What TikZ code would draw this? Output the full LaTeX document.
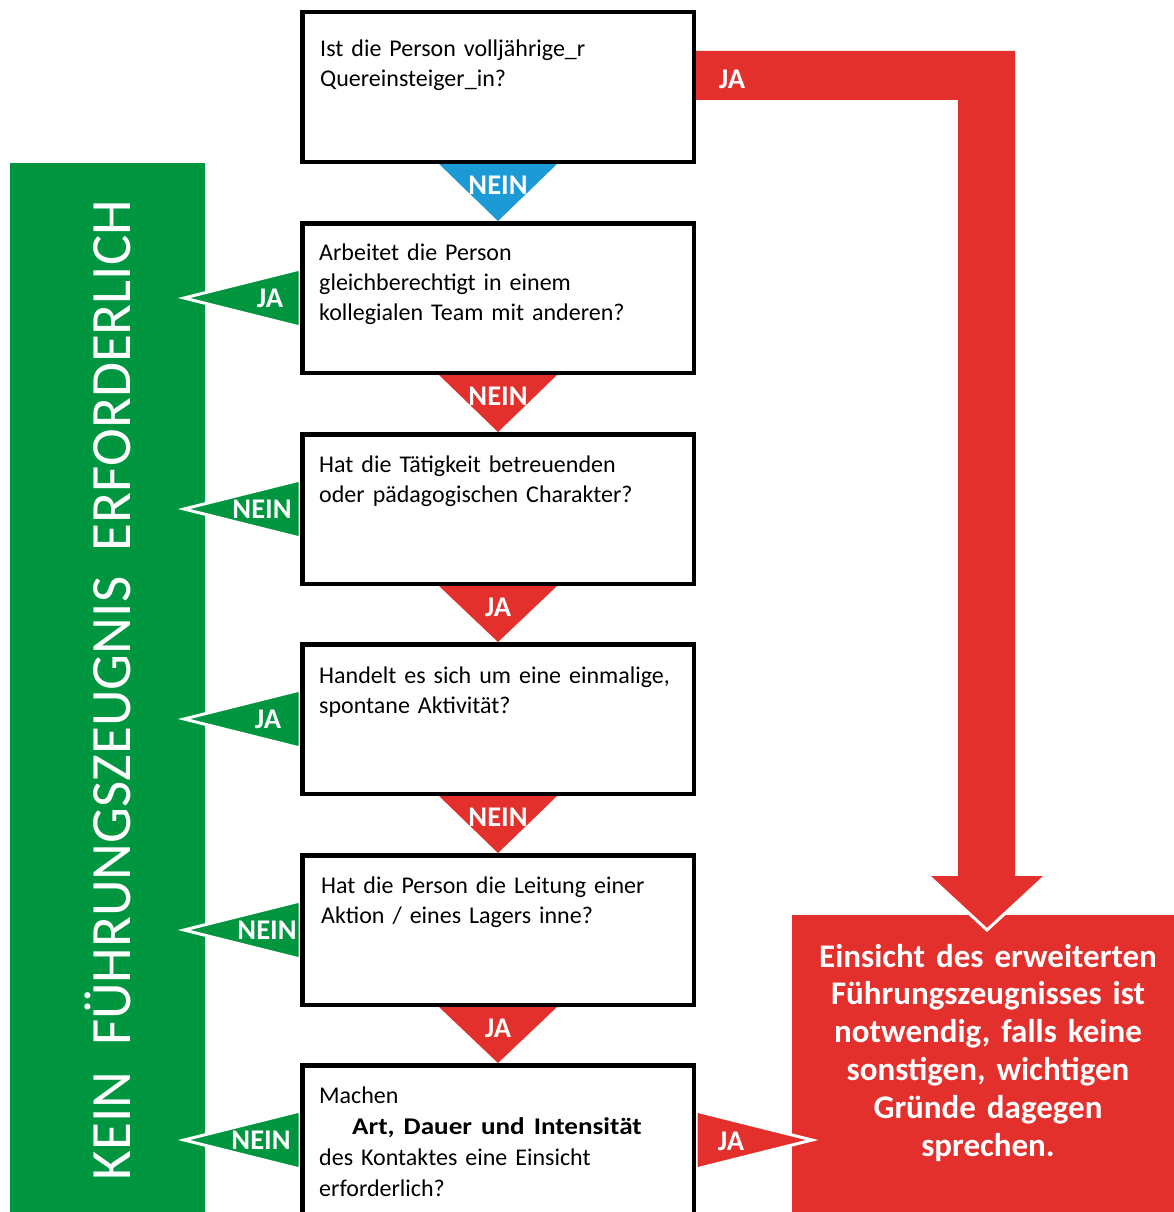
\documentclass[tikz,border=0pt]{standalone}
\usepackage{fontspec}
\usepackage{graphicx}
\setmainfont{Carlito}
\usetikzlibrary{calc}
\definecolor{ggreen}{HTML}{00963F}
\definecolor{rred}{HTML}{E3302C}
\definecolor{bblue}{HTML}{1B9AD6}
\begin{document}
\begin{tikzpicture}[x=1pt,y=-1pt,
  qbox/.style={draw=black, line width=4.5pt, fill=white, minimum width=391.5pt, minimum height=149.5pt, inner sep=0pt},
  qtext/.style={anchor=base west, inner sep=0pt, text width=375pt, align=left, font=\fontsize{24}{30}\selectfont},
  lab/.style={text=white, font=\bfseries\fontsize{28.5}{30}\selectfont, inner sep=0pt},
  tri/.style={draw=white, line width=3pt},
]
\useasboundingbox (0,0) rectangle (1174,1212);
% green bar and result box
\node[fill=ggreen, anchor=north west, minimum width=195pt, minimum height=1070pt, inner sep=0pt] (gbar) at (10,163) {};
\node[fill=rred, anchor=north west, minimum width=400pt, minimum height=320pt, inner sep=0pt] (res) at (792,915) {};
% question box centres
\coordinate (c1) at (498,87);
\coordinate (c2) at (498,298);
\coordinate (c3) at (498,509);
\coordinate (c4) at (498,719);
\coordinate (c5) at (498,930);
\coordinate (c6) at (498,1140);
% red JA arrow from first box to result
\fill[rred] ($(c1)+(198,-36)$) -- (1015,51) -- (1015,876) -- (1046,876) -- (987,930) -- (928,876) -- (958,876) -- (958,100) -- ($(c1)+(198,13)$) -- cycle;
\draw[white, line width=3pt] (1047,874.5) -- (987,930) -- (927,874.5);
% box anchors
\foreach \i in {1,...,6} \path (c\i) node[qbox, draw=none, fill=none] (b\i) {};
% down triangles
\foreach \a/\b/\c in {b1/b2/bblue, b2/b3/rred, b3/b4/rred, b4/b5/rred, b5/b6/rred}
  \fill[\c] ($(\a.south)+(-59,0)$) -- ($(\a.south)+(59,0)$) -- (\b.north) -- cycle;
% left (green) triangles
\foreach \b in {b2,b3,b4,b5,b6}
  \filldraw[fill=ggreen, tri] ($(\b.west)+(0,-29)$) -- ($(\b.west)+(-116,0)$) -- ($(\b.west)+(0,29)$) -- cycle;
% right red triangle from last box
\filldraw[fill=rred, tri] ($(b6.east)+(0,-29)$) -- ($(b6.east)+(116,0)$) -- ($(b6.east)+(0,29)$) -- cycle;
% draw boxes
\foreach \i in {1,...,6} \node[qbox] at (c\i) {};
% texts in boxes
\node[qtext] (t1) at (320,57) {Ist die Person volljährige\_r\\Quereinsteiger\_in?};
\node[qtext] (t2) at (319,260) {Arbeitet die Person\\gleichberechtigt in einem\\kollegialen Team mit anderen?};
\node[qtext] (t3) at (319,472) {Hat die Tätigkeit betreuenden\\oder pädagogischen Charakter?};
\node[qtext] (t4) at (319,683) {Handelt es sich um eine einmalige,\\spontane Aktivität?};
\node[qtext] (t5) at (321,893) {Hat die Person die Leitung einer\\Aktion / eines Lagers inne?};
\node[qtext, font=\fontsize{24}{31}\selectfont] (t6) at (319,1103) {Machen\\\hspace*{33pt}\scalebox{1.13}[1]{\textbf{Art, Dauer und Intensität}}\\des Kontaktes eine Einsicht\\erforderlich?};
% labels
\node[lab] (l1) at (498,185) {NEIN};
\node[lab] (l2) at (498,396) {NEIN};
\node[lab] (l3) at (498,607) {JA};
\node[lab] (l4) at (498,817) {NEIN};
\node[lab] (l5) at (498,1028) {JA};
\node[lab] (g2) at (270,298) {JA};
\node[lab] (g3) at (262,509) {NEIN};
\node[lab] (g4) at (268,719) {JA};
\node[lab] (g5) at (267,930) {NEIN};
\node[lab] (g6) at (261,1140) {NEIN};
\node[lab] (r6) at (731,1141) {JA};
\node[lab] (r1) at (732,79) {JA};
% green text
\node[rotate=90, anchor=base, text=white, inner sep=0pt, font=\fontsize{57}{60}\selectfont] (gtext) at (130,690) {KEIN\hspace{0.45em}FÜHRUNGSZEUGNIS\hspace{0.45em}ERFORDERLICH};
% result text
\node[anchor=base, text=white, inner sep=0pt, text width=380pt, align=center, font=\bfseries\fontsize{33}{37.8}\selectfont] (restext) at (988,967) {Einsicht des erweiterten\\Führungszeugnisses ist\\notwendig, falls keine\\sonstigen, wichtigen\\Gründe dagegen\\sprechen.};
\end{tikzpicture}
\end{document}
